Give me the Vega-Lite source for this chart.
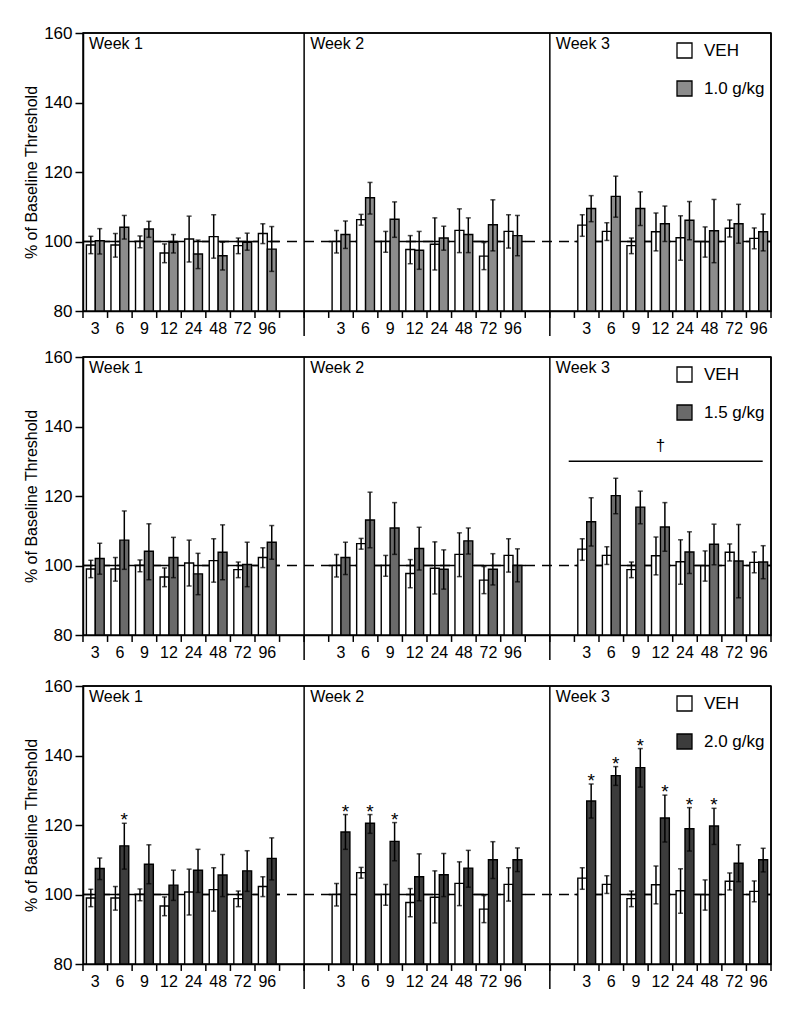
{
"$schema": "https://vega.github.io/schema/vega-lite/v6.json",
"background": "white",
"padding": {"top": 23, "left": 22, "right": 5, "bottom": 5},
"config": {
  "view": {"stroke": "black", "strokeWidth": 1.5},
  "axis": {"domainColor": "black", "tickColor": "black", "labelColor": "black", "titleColor": "black", "domainWidth": 1.5, "tickWidth": 1.5, "labelFont": "Liberation Sans", "titleFont": "Liberation Sans", "grid": false},
  "axisY": {"labelOverlap": false, "tickCount": 8, "labelFlush": false},
  "text": {"font": "Liberation Sans", "color": "black"},
  "legend": {"labelFont": "Liberation Sans"}
},
"datasets": {
  "rows": [
{"kind":"full","k":"1|3","k2":"3|96"},
{"kind":"span","k":"1|3","k2":"1|96"},{"kind":"span","k":"2|3","k2":"2|96"},{"kind":"span","k":"3|3","k2":"3|96"},
{"kind":"sep","k":"g2"},{"kind":"sep","k":"g4"},
{"kind":"week","k":"1|3","t":"Week 1"},{"kind":"week","k":"g2","t":"Week 2"},{"kind":"week","k":"g4","t":"Week 3"},
{"kind":"dagline","k":"3|3","k2":"3|96"},{"kind":"dagtext","k":"3|12","t":"†"},
{"kind":"tick","k":"1|3"},{"kind":"tick","k":"1|6"},{"kind":"tick","k":"1|9"},{"kind":"tick","k":"1|12"},{"kind":"tick","k":"1|24"},{"kind":"tick","k":"1|48"},{"kind":"tick","k":"1|72"},{"kind":"tick","k":"1|96"},{"kind":"tick","k":"g1"},{"kind":"tick","k":"g2"},
{"kind":"tick","k":"2|3"},{"kind":"tick","k":"2|6"},{"kind":"tick","k":"2|9"},{"kind":"tick","k":"2|12"},{"kind":"tick","k":"2|24"},{"kind":"tick","k":"2|48"},{"kind":"tick","k":"2|72"},{"kind":"tick","k":"2|96"},{"kind":"tick","k":"g3"},{"kind":"tick","k":"g4"},
{"kind":"tick","k":"3|3"},{"kind":"tick","k":"3|6"},{"kind":"tick","k":"3|9"},{"kind":"tick","k":"3|12"},{"kind":"tick","k":"3|24"},{"kind":"tick","k":"3|48"},{"kind":"tick","k":"3|72"},{"kind":"tick","k":"3|96"},
{"kind":"edge","k":"3|96"},
{"kind":"bar","d":"1.0","k":"1|3","c":"VEH","m":99.0,"lo":96.5,"hi":101.5},
{"kind":"bar","d":"1.0","k":"1|6","c":"VEH","m":99.0,"lo":95.5,"hi":102.3},
{"kind":"bar","d":"1.0","k":"1|9","c":"VEH","m":100.0,"lo":98.2,"hi":101.6},
{"kind":"bar","d":"1.0","k":"1|12","c":"VEH","m":96.7,"lo":93.9,"hi":99.3},
{"kind":"bar","d":"1.0","k":"1|24","c":"VEH","m":100.7,"lo":94.1,"hi":107.3},
{"kind":"bar","d":"1.0","k":"1|48","c":"VEH","m":101.4,"lo":95.2,"hi":107.7},
{"kind":"bar","d":"1.0","k":"1|72","c":"VEH","m":98.8,"lo":96.5,"hi":101.0},
{"kind":"bar","d":"1.0","k":"1|96","c":"VEH","m":102.3,"lo":99.4,"hi":105.1},
{"kind":"bar","d":"1.0","k":"2|3","c":"VEH","m":100.0,"lo":96.7,"hi":103.2},
{"kind":"bar","d":"1.0","k":"2|6","c":"VEH","m":106.3,"lo":104.7,"hi":107.8},
{"kind":"bar","d":"1.0","k":"2|9","c":"VEH","m":100.0,"lo":96.9,"hi":102.9},
{"kind":"bar","d":"1.0","k":"2|12","c":"VEH","m":97.7,"lo":93.6,"hi":101.7},
{"kind":"bar","d":"1.0","k":"2|24","c":"VEH","m":99.2,"lo":91.8,"hi":106.8},
{"kind":"bar","d":"1.0","k":"2|48","c":"VEH","m":103.2,"lo":96.8,"hi":109.4},
{"kind":"bar","d":"1.0","k":"2|72","c":"VEH","m":95.8,"lo":91.9,"hi":99.7},
{"kind":"bar","d":"1.0","k":"2|96","c":"VEH","m":102.9,"lo":98.1,"hi":107.7},
{"kind":"bar","d":"1.0","k":"3|3","c":"VEH","m":104.7,"lo":101.5,"hi":107.7},
{"kind":"bar","d":"1.0","k":"3|6","c":"VEH","m":102.9,"lo":100.3,"hi":105.4},
{"kind":"bar","d":"1.0","k":"3|9","c":"VEH","m":98.8,"lo":96.5,"hi":101.0},
{"kind":"bar","d":"1.0","k":"3|12","c":"VEH","m":102.8,"lo":97.3,"hi":108.2},
{"kind":"bar","d":"1.0","k":"3|24","c":"VEH","m":101.1,"lo":94.6,"hi":107.4},
{"kind":"bar","d":"1.0","k":"3|48","c":"VEH","m":99.9,"lo":95.5,"hi":104.2},
{"kind":"bar","d":"1.0","k":"3|72","c":"VEH","m":103.8,"lo":101.3,"hi":106.2},
{"kind":"bar","d":"1.0","k":"3|96","c":"VEH","m":100.9,"lo":97.9,"hi":103.9},
{"kind":"bar","d":"1.0","k":"1|3","c":"1.0 g/kg","m":100.2,"lo":96.4,"hi":103.7},
{"kind":"bar","d":"1.0","k":"1|6","c":"1.0 g/kg","m":104.1,"lo":100.7,"hi":107.5},
{"kind":"bar","d":"1.0","k":"1|9","c":"1.0 g/kg","m":103.6,"lo":101.2,"hi":105.8},
{"kind":"bar","d":"1.0","k":"1|12","c":"1.0 g/kg","m":99.8,"lo":96.7,"hi":102.0},
{"kind":"bar","d":"1.0","k":"1|24","c":"1.0 g/kg","m":96.4,"lo":92.2,"hi":100.4},
{"kind":"bar","d":"1.0","k":"1|48","c":"1.0 g/kg","m":95.9,"lo":91.8,"hi":99.8},
{"kind":"bar","d":"1.0","k":"1|72","c":"1.0 g/kg","m":99.8,"lo":97.5,"hi":102.4},
{"kind":"bar","d":"1.0","k":"1|96","c":"1.0 g/kg","m":97.8,"lo":91.4,"hi":104.3},
{"kind":"bar","d":"1.0","k":"2|3","c":"1.0 g/kg","m":102.0,"lo":98.0,"hi":105.9},
{"kind":"bar","d":"1.0","k":"2|6","c":"1.0 g/kg","m":112.6,"lo":107.9,"hi":117.0},
{"kind":"bar","d":"1.0","k":"2|9","c":"1.0 g/kg","m":106.4,"lo":101.2,"hi":111.4},
{"kind":"bar","d":"1.0","k":"2|12","c":"1.0 g/kg","m":97.5,"lo":92.0,"hi":102.9},
{"kind":"bar","d":"1.0","k":"2|24","c":"1.0 g/kg","m":101.0,"lo":97.5,"hi":104.4},
{"kind":"bar","d":"1.0","k":"2|48","c":"1.0 g/kg","m":102.0,"lo":96.8,"hi":106.8},
{"kind":"bar","d":"1.0","k":"2|72","c":"1.0 g/kg","m":104.8,"lo":97.3,"hi":112.0},
{"kind":"bar","d":"1.0","k":"2|96","c":"1.0 g/kg","m":101.7,"lo":95.9,"hi":107.5},
{"kind":"bar","d":"1.0","k":"3|3","c":"1.0 g/kg","m":109.5,"lo":105.7,"hi":113.2},
{"kind":"bar","d":"1.0","k":"3|6","c":"1.0 g/kg","m":113.0,"lo":107.0,"hi":118.8},
{"kind":"bar","d":"1.0","k":"3|9","c":"1.0 g/kg","m":109.5,"lo":104.6,"hi":114.3},
{"kind":"bar","d":"1.0","k":"3|12","c":"1.0 g/kg","m":105.1,"lo":100.0,"hi":110.2},
{"kind":"bar","d":"1.0","k":"3|24","c":"1.0 g/kg","m":106.1,"lo":100.5,"hi":111.5},
{"kind":"bar","d":"1.0","k":"3|48","c":"1.0 g/kg","m":103.1,"lo":93.9,"hi":112.1},
{"kind":"bar","d":"1.0","k":"3|72","c":"1.0 g/kg","m":105.1,"lo":99.5,"hi":110.7},
{"kind":"bar","d":"1.0","k":"3|96","c":"1.0 g/kg","m":102.8,"lo":97.3,"hi":107.9},
{"kind":"bar","d":"1.5","k":"1|3","c":"VEH","m":99.0,"lo":96.5,"hi":101.5},
{"kind":"bar","d":"1.5","k":"1|6","c":"VEH","m":99.0,"lo":95.5,"hi":102.3},
{"kind":"bar","d":"1.5","k":"1|9","c":"VEH","m":100.0,"lo":98.2,"hi":101.6},
{"kind":"bar","d":"1.5","k":"1|12","c":"VEH","m":96.7,"lo":93.9,"hi":99.3},
{"kind":"bar","d":"1.5","k":"1|24","c":"VEH","m":100.7,"lo":94.1,"hi":107.3},
{"kind":"bar","d":"1.5","k":"1|48","c":"VEH","m":101.4,"lo":95.2,"hi":107.7},
{"kind":"bar","d":"1.5","k":"1|72","c":"VEH","m":98.8,"lo":96.5,"hi":101.0},
{"kind":"bar","d":"1.5","k":"1|96","c":"VEH","m":102.3,"lo":99.4,"hi":105.1},
{"kind":"bar","d":"1.5","k":"2|3","c":"VEH","m":100.0,"lo":96.7,"hi":103.2},
{"kind":"bar","d":"1.5","k":"2|6","c":"VEH","m":106.3,"lo":104.7,"hi":107.8},
{"kind":"bar","d":"1.5","k":"2|9","c":"VEH","m":100.0,"lo":96.9,"hi":102.9},
{"kind":"bar","d":"1.5","k":"2|12","c":"VEH","m":97.7,"lo":93.6,"hi":101.7},
{"kind":"bar","d":"1.5","k":"2|24","c":"VEH","m":99.2,"lo":91.8,"hi":106.8},
{"kind":"bar","d":"1.5","k":"2|48","c":"VEH","m":103.2,"lo":96.8,"hi":109.4},
{"kind":"bar","d":"1.5","k":"2|72","c":"VEH","m":95.8,"lo":91.9,"hi":99.7},
{"kind":"bar","d":"1.5","k":"2|96","c":"VEH","m":102.9,"lo":98.1,"hi":107.7},
{"kind":"bar","d":"1.5","k":"3|3","c":"VEH","m":104.7,"lo":101.5,"hi":107.7},
{"kind":"bar","d":"1.5","k":"3|6","c":"VEH","m":102.9,"lo":100.3,"hi":105.4},
{"kind":"bar","d":"1.5","k":"3|9","c":"VEH","m":98.8,"lo":96.5,"hi":101.0},
{"kind":"bar","d":"1.5","k":"3|12","c":"VEH","m":102.8,"lo":97.3,"hi":108.2},
{"kind":"bar","d":"1.5","k":"3|24","c":"VEH","m":101.1,"lo":94.6,"hi":107.4},
{"kind":"bar","d":"1.5","k":"3|48","c":"VEH","m":99.9,"lo":95.5,"hi":104.2},
{"kind":"bar","d":"1.5","k":"3|72","c":"VEH","m":103.8,"lo":101.3,"hi":106.2},
{"kind":"bar","d":"1.5","k":"3|96","c":"VEH","m":100.9,"lo":97.9,"hi":103.9},
{"kind":"bar","d":"1.5","k":"1|3","c":"1.5 g/kg","m":102.0,"lo":97.5,"hi":106.4},
{"kind":"bar","d":"1.5","k":"1|6","c":"1.5 g/kg","m":107.3,"lo":98.9,"hi":115.7},
{"kind":"bar","d":"1.5","k":"1|9","c":"1.5 g/kg","m":104.1,"lo":95.9,"hi":112.0},
{"kind":"bar","d":"1.5","k":"1|12","c":"1.5 g/kg","m":102.3,"lo":96.5,"hi":108.1},
{"kind":"bar","d":"1.5","k":"1|24","c":"1.5 g/kg","m":97.6,"lo":91.6,"hi":103.5},
{"kind":"bar","d":"1.5","k":"1|48","c":"1.5 g/kg","m":103.8,"lo":95.9,"hi":111.7},
{"kind":"bar","d":"1.5","k":"1|72","c":"1.5 g/kg","m":100.3,"lo":93.9,"hi":106.7},
{"kind":"bar","d":"1.5","k":"1|96","c":"1.5 g/kg","m":106.7,"lo":101.8,"hi":111.5},
{"kind":"bar","d":"1.5","k":"2|3","c":"1.5 g/kg","m":102.3,"lo":97.4,"hi":106.7},
{"kind":"bar","d":"1.5","k":"2|6","c":"1.5 g/kg","m":113.1,"lo":105.1,"hi":121.1},
{"kind":"bar","d":"1.5","k":"2|9","c":"1.5 g/kg","m":110.8,"lo":103.2,"hi":118.1},
{"kind":"bar","d":"1.5","k":"2|12","c":"1.5 g/kg","m":104.9,"lo":98.7,"hi":111.0},
{"kind":"bar","d":"1.5","k":"2|24","c":"1.5 g/kg","m":98.9,"lo":93.2,"hi":104.5},
{"kind":"bar","d":"1.5","k":"2|48","c":"1.5 g/kg","m":107.1,"lo":103.3,"hi":110.8},
{"kind":"bar","d":"1.5","k":"2|72","c":"1.5 g/kg","m":98.9,"lo":94.4,"hi":103.4},
{"kind":"bar","d":"1.5","k":"2|96","c":"1.5 g/kg","m":100.0,"lo":95.3,"hi":104.8},
{"kind":"bar","d":"1.5","k":"3|3","c":"1.5 g/kg","m":112.6,"lo":105.6,"hi":119.5},
{"kind":"bar","d":"1.5","k":"3|6","c":"1.5 g/kg","m":120.1,"lo":114.9,"hi":125.1},
{"kind":"bar","d":"1.5","k":"3|9","c":"1.5 g/kg","m":116.8,"lo":112.0,"hi":121.4},
{"kind":"bar","d":"1.5","k":"3|12","c":"1.5 g/kg","m":111.1,"lo":104.1,"hi":118.1},
{"kind":"bar","d":"1.5","k":"3|24","c":"1.5 g/kg","m":103.9,"lo":97.7,"hi":109.7},
{"kind":"bar","d":"1.5","k":"3|48","c":"1.5 g/kg","m":106.1,"lo":100.2,"hi":111.9},
{"kind":"bar","d":"1.5","k":"3|72","c":"1.5 g/kg","m":101.3,"lo":90.7,"hi":111.8},
{"kind":"bar","d":"1.5","k":"3|96","c":"1.5 g/kg","m":101.0,"lo":96.2,"hi":105.7},
{"kind":"bar","d":"2.0","k":"1|3","c":"VEH","m":99.0,"lo":96.5,"hi":101.5},
{"kind":"bar","d":"2.0","k":"1|6","c":"VEH","m":99.0,"lo":95.5,"hi":102.3},
{"kind":"bar","d":"2.0","k":"1|9","c":"VEH","m":100.0,"lo":98.2,"hi":101.6},
{"kind":"bar","d":"2.0","k":"1|12","c":"VEH","m":96.7,"lo":93.9,"hi":99.3},
{"kind":"bar","d":"2.0","k":"1|24","c":"VEH","m":100.7,"lo":94.1,"hi":107.3},
{"kind":"bar","d":"2.0","k":"1|48","c":"VEH","m":101.4,"lo":95.2,"hi":107.7},
{"kind":"bar","d":"2.0","k":"1|72","c":"VEH","m":98.8,"lo":96.5,"hi":101.0},
{"kind":"bar","d":"2.0","k":"1|96","c":"VEH","m":102.3,"lo":99.4,"hi":105.1},
{"kind":"bar","d":"2.0","k":"2|3","c":"VEH","m":100.0,"lo":96.7,"hi":103.2},
{"kind":"bar","d":"2.0","k":"2|6","c":"VEH","m":106.3,"lo":104.7,"hi":107.8},
{"kind":"bar","d":"2.0","k":"2|9","c":"VEH","m":100.0,"lo":96.9,"hi":102.9},
{"kind":"bar","d":"2.0","k":"2|12","c":"VEH","m":97.7,"lo":93.6,"hi":101.7},
{"kind":"bar","d":"2.0","k":"2|24","c":"VEH","m":99.2,"lo":91.8,"hi":106.8},
{"kind":"bar","d":"2.0","k":"2|48","c":"VEH","m":103.2,"lo":96.8,"hi":109.4},
{"kind":"bar","d":"2.0","k":"2|72","c":"VEH","m":95.8,"lo":91.9,"hi":99.7},
{"kind":"bar","d":"2.0","k":"2|96","c":"VEH","m":102.9,"lo":98.1,"hi":107.7},
{"kind":"bar","d":"2.0","k":"3|3","c":"VEH","m":104.7,"lo":101.5,"hi":107.7},
{"kind":"bar","d":"2.0","k":"3|6","c":"VEH","m":102.9,"lo":100.3,"hi":105.4},
{"kind":"bar","d":"2.0","k":"3|9","c":"VEH","m":98.8,"lo":96.5,"hi":101.0},
{"kind":"bar","d":"2.0","k":"3|12","c":"VEH","m":102.8,"lo":97.3,"hi":108.2},
{"kind":"bar","d":"2.0","k":"3|24","c":"VEH","m":101.1,"lo":94.6,"hi":107.4},
{"kind":"bar","d":"2.0","k":"3|48","c":"VEH","m":99.9,"lo":95.5,"hi":104.2},
{"kind":"bar","d":"2.0","k":"3|72","c":"VEH","m":103.8,"lo":101.3,"hi":106.2},
{"kind":"bar","d":"2.0","k":"3|96","c":"VEH","m":100.9,"lo":97.9,"hi":103.9},
{"kind":"bar","d":"2.0","k":"1|3","c":"2.0 g/kg","m":107.5,"lo":104.3,"hi":110.5},
{"kind":"bar","d":"2.0","k":"1|6","c":"2.0 g/kg","m":114.0,"lo":107.3,"hi":120.5,"s":1},
{"kind":"bar","d":"2.0","k":"1|9","c":"2.0 g/kg","m":108.7,"lo":103.1,"hi":114.3},
{"kind":"bar","d":"2.0","k":"1|12","c":"2.0 g/kg","m":102.7,"lo":98.3,"hi":107.0},
{"kind":"bar","d":"2.0","k":"1|24","c":"2.0 g/kg","m":107.0,"lo":100.6,"hi":113.0},
{"kind":"bar","d":"2.0","k":"1|48","c":"2.0 g/kg","m":105.6,"lo":99.4,"hi":111.5},
{"kind":"bar","d":"2.0","k":"1|72","c":"2.0 g/kg","m":106.8,"lo":100.9,"hi":112.6},
{"kind":"bar","d":"2.0","k":"1|96","c":"2.0 g/kg","m":110.4,"lo":104.2,"hi":116.3},
{"kind":"bar","d":"2.0","k":"2|3","c":"2.0 g/kg","m":118.0,"lo":113.0,"hi":123.0,"s":1},
{"kind":"bar","d":"2.0","k":"2|6","c":"2.0 g/kg","m":120.5,"lo":117.6,"hi":123.0,"s":1},
{"kind":"bar","d":"2.0","k":"2|9","c":"2.0 g/kg","m":115.3,"lo":109.7,"hi":120.7,"s":1},
{"kind":"bar","d":"2.0","k":"2|12","c":"2.0 g/kg","m":105.1,"lo":98.2,"hi":111.7},
{"kind":"bar","d":"2.0","k":"2|24","c":"2.0 g/kg","m":105.7,"lo":99.4,"hi":111.8},
{"kind":"bar","d":"2.0","k":"2|48","c":"2.0 g/kg","m":107.6,"lo":102.1,"hi":112.7},
{"kind":"bar","d":"2.0","k":"2|72","c":"2.0 g/kg","m":110.0,"lo":104.6,"hi":115.2},
{"kind":"bar","d":"2.0","k":"2|96","c":"2.0 g/kg","m":110.0,"lo":106.6,"hi":113.4},
{"kind":"bar","d":"2.0","k":"3|3","c":"2.0 g/kg","m":126.9,"lo":122.0,"hi":131.8,"s":1},
{"kind":"bar","d":"2.0","k":"3|6","c":"2.0 g/kg","m":134.2,"lo":131.4,"hi":136.8,"s":1},
{"kind":"bar","d":"2.0","k":"3|9","c":"2.0 g/kg","m":136.5,"lo":130.9,"hi":142.0,"s":1},
{"kind":"bar","d":"2.0","k":"3|12","c":"2.0 g/kg","m":122.0,"lo":115.1,"hi":128.6,"s":1},
{"kind":"bar","d":"2.0","k":"3|24","c":"2.0 g/kg","m":118.9,"lo":112.5,"hi":125.0,"s":1},
{"kind":"bar","d":"2.0","k":"3|48","c":"2.0 g/kg","m":119.7,"lo":114.4,"hi":124.8,"s":1},
{"kind":"bar","d":"2.0","k":"3|72","c":"2.0 g/kg","m":109.0,"lo":103.7,"hi":114.3},
{"kind":"bar","d":"2.0","k":"3|96","c":"2.0 g/kg","m":110.0,"lo":106.5,"hi":113.3}
  ]
},
"resolve": {"scale": {"color": "independent", "xOffset": "independent"}},
"spacing": 14,
"vconcat": [
{
"resolve": {"scale": {"color": "independent", "xOffset": "independent"}},
"spacing": 9,
"vconcat": [
{
  "width": 688, "height": 278,
  "data": {"name": "rows"},
  "layer": [
    {"transform": [{"filter": "datum.kind === 'full'"}], "mark": {"type": "rule", "strokeDash": [10, 7], "strokeWidth": 1.3, "color": "black", "xOffset": -12.3, "x2Offset": 12.3},
     "encoding": {"x": {"field": "k", "type": "nominal", "scale": {"type": "band", "domain": ["1|3","1|6","1|9","1|12","1|24","1|48","1|72","1|96","g1","g2","2|3","2|6","2|9","2|12","2|24","2|48","2|72","2|96","g3","g4","3|3","3|6","3|9","3|12","3|24","3|48","3|72","3|96"], "paddingInner": 0, "paddingOuter": 0},
         "axis": {"title": null, "labelExpr": "indexof(datum.label + '', '|') > 0 ? substring(datum.label + '', indexof(datum.label + '', '|') + 1) : ''", "labelAngle": 0, "labelAlign": "center", "labelBaseline": "top", "ticks": false, "labelFontSize": 16, "labelPadding": 9, "labelOverlap": false}},
       "x2": {"field": "k2"},
       "y": {"datum": 100, "type": "quantitative", "scale": {"domain": [80, 160], "nice": false, "zero": false},
         "axis": {"title": "% of Baseline Threshold", "values": [80,90,100,110,120,130,140,150,160], "tickSize": 8, "labelFontSize": 17, "labelPadding": 3, "labelOverlap": false, "labelFlush": false, "titleFontSize": 16, "titleFontWeight": "normal", "titlePadding": 4}}}},
    {"transform": [{"filter": "datum.kind === 'span'"}], "mark": {"type": "rule", "strokeWidth": 1.3, "color": "black", "xOffset": -12.3, "x2Offset": 12.3},
     "encoding": {"x": {"field": "k", "type": "nominal"}, "x2": {"field": "k2"}, "y": {"datum": 100, "type": "quantitative"}}},
    {"transform": [{"filter": "datum.kind === 'bar' && datum.d === '1.0'"}],
     "mark": {"type": "bar", "stroke": "black", "strokeWidth": 1.4},
     "encoding": {
       "x": {"field": "k", "type": "nominal", "axis": {"title": null, "labelExpr": "indexof(datum.label + '', '|') > 0 ? substring(datum.label + '', indexof(datum.label + '', '|') + 1) : ''", "labelAngle": 0, "labelAlign": "center", "labelBaseline": "top", "ticks": false, "labelFontSize": 16, "labelPadding": 9, "labelOverlap": false}},
       "y": {"field": "m", "type": "quantitative", "scale": {"domain": [80, 160], "nice": false, "zero": false},
         "axis": {"title": "% of Baseline Threshold", "values": [80,90,100,110,120,130,140,150,160], "tickSize": 8, "labelFontSize": 17, "labelPadding": 3, "labelOverlap": false, "labelFlush": false, "titleFontSize": 16, "titleFontWeight": "normal", "titlePadding": 4}},
       "xOffset": {"field": "c", "scale": {"domain": ["VEH", "1.0 g/kg"], "paddingOuter": 0.38, "paddingInner": 0}},
       "y2": {"datum": 80},
       "color": {"field": "c", "scale": {"domain": ["VEH", "1.0 g/kg"], "range": ["white", "#8c8c8c"]},
         "legend": {"orient": "none", "legendX": 593, "legendY": 9, "title": null, "symbolType": "square", "symbolSize": 225, "symbolStrokeColor": "black", "symbolStrokeWidth": 1.3, "symbolOpacity": 1, "labelFontSize": 17, "labelOffset": 11, "rowPadding": 17, "padding": 0}}}},
    {"transform": [{"filter": "datum.kind === 'bar' && datum.d === '1.0'"}],
     "mark": {"type": "rule", "strokeWidth": 1.5, "color": "black"},
     "encoding": {"x": {"field": "k", "type": "nominal"}, "xOffset": {"field": "c", "scale": {"domain": ["VEH", "1.0 g/kg"], "paddingOuter": 0.38, "paddingInner": 0}}, "y": {"field": "lo", "type": "quantitative"}, "y2": {"field": "hi"}}},
    {"transform": [{"filter": "datum.kind === 'bar' && datum.d === '1.0'"}],
     "mark": {"type": "tick", "orient": "horizontal", "size": 5, "thickness": 1.5, "color": "black"},
     "encoding": {"x": {"field": "k", "type": "nominal"}, "xOffset": {"field": "c", "scale": {"domain": ["VEH", "1.0 g/kg"], "paddingOuter": 0.38, "paddingInner": 0}}, "y": {"field": "lo", "type": "quantitative"}}},
    {"transform": [{"filter": "datum.kind === 'bar' && datum.d === '1.0'"}],
     "mark": {"type": "tick", "orient": "horizontal", "size": 5, "thickness": 1.5, "color": "black"},
     "encoding": {"x": {"field": "k", "type": "nominal"}, "xOffset": {"field": "c", "scale": {"domain": ["VEH", "1.0 g/kg"], "paddingOuter": 0.38, "paddingInner": 0}}, "y": {"field": "hi", "type": "quantitative"}}},
    {"transform": [{"filter": "datum.kind === 'tick'"}], "mark": {"type": "rule", "strokeWidth": 1.5, "color": "black", "xOffset": -12.3},
     "encoding": {"x": {"field": "k", "type": "nominal"}, "y": {"datum": 80, "type": "quantitative"}, "y2": {"datum": 78}}},
    {"transform": [{"filter": "datum.kind === 'edge'"}], "mark": {"type": "rule", "strokeWidth": 1.5, "color": "black", "xOffset": 12.3},
     "encoding": {"x": {"field": "k", "type": "nominal"}, "y": {"datum": 160, "type": "quantitative"}, "y2": {"datum": 78}}},
    {"transform": [{"filter": "datum.kind === 'full'"}], "mark": {"type": "rule", "strokeWidth": 1.5, "color": "black", "xOffset": -12.3, "x2Offset": 12.3},
     "encoding": {"x": {"field": "k", "type": "nominal"}, "x2": {"field": "k2"}, "y": {"datum": 160, "type": "quantitative"}}},
    {"transform": [{"filter": "datum.kind === 'sep'"}], "mark": {"type": "rule", "strokeWidth": 1.5, "color": "black", "xOffset": -12.3},
     "encoding": {"x": {"field": "k", "type": "nominal"}, "y": {"datum": 160, "type": "quantitative"}, "y2": {"datum": 72.8}}},
    {"transform": [{"filter": "datum.kind === 'week'"}], "mark": {"type": "text", "align": "left", "baseline": "top", "dx": -6.3, "dy": 3, "fontSize": 16},
     "encoding": {"x": {"field": "k", "type": "nominal"}, "y": {"datum": 160, "type": "quantitative"}, "text": {"field": "t"}}}
  ]
},
{
  "width": 688, "height": 278,
  "data": {"name": "rows"},
  "layer": [
    {"transform": [{"filter": "datum.kind === 'full'"}], "mark": {"type": "rule", "strokeDash": [10, 7], "strokeWidth": 1.3, "color": "black", "xOffset": -12.3, "x2Offset": 12.3},
     "encoding": {"x": {"field": "k", "type": "nominal", "scale": {"type": "band", "domain": ["1|3","1|6","1|9","1|12","1|24","1|48","1|72","1|96","g1","g2","2|3","2|6","2|9","2|12","2|24","2|48","2|72","2|96","g3","g4","3|3","3|6","3|9","3|12","3|24","3|48","3|72","3|96"], "paddingInner": 0, "paddingOuter": 0},
         "axis": {"title": null, "labelExpr": "indexof(datum.label + '', '|') > 0 ? substring(datum.label + '', indexof(datum.label + '', '|') + 1) : ''", "labelAngle": 0, "labelAlign": "center", "labelBaseline": "top", "ticks": false, "labelFontSize": 16, "labelPadding": 9, "labelOverlap": false}},
       "x2": {"field": "k2"},
       "y": {"datum": 100, "type": "quantitative", "scale": {"domain": [80, 160], "nice": false, "zero": false},
         "axis": {"title": "% of Baseline Threshold", "values": [80,90,100,110,120,130,140,150,160], "tickSize": 8, "labelFontSize": 17, "labelPadding": 3, "labelOverlap": false, "labelFlush": false, "titleFontSize": 16, "titleFontWeight": "normal", "titlePadding": 4}}}},
    {"transform": [{"filter": "datum.kind === 'span'"}], "mark": {"type": "rule", "strokeWidth": 1.3, "color": "black", "xOffset": -12.3, "x2Offset": 12.3},
     "encoding": {"x": {"field": "k", "type": "nominal"}, "x2": {"field": "k2"}, "y": {"datum": 100, "type": "quantitative"}}},
    {"transform": [{"filter": "datum.kind === 'bar' && datum.d === '1.5'"}],
     "mark": {"type": "bar", "stroke": "black", "strokeWidth": 1.4},
     "encoding": {
       "x": {"field": "k", "type": "nominal", "axis": {"title": null, "labelExpr": "indexof(datum.label + '', '|') > 0 ? substring(datum.label + '', indexof(datum.label + '', '|') + 1) : ''", "labelAngle": 0, "labelAlign": "center", "labelBaseline": "top", "ticks": false, "labelFontSize": 16, "labelPadding": 9, "labelOverlap": false}},
       "y": {"field": "m", "type": "quantitative", "scale": {"domain": [80, 160], "nice": false, "zero": false},
         "axis": {"title": "% of Baseline Threshold", "values": [80,90,100,110,120,130,140,150,160], "tickSize": 8, "labelFontSize": 17, "labelPadding": 3, "labelOverlap": false, "labelFlush": false, "titleFontSize": 16, "titleFontWeight": "normal", "titlePadding": 4}},
       "xOffset": {"field": "c", "scale": {"domain": ["VEH", "1.5 g/kg"], "paddingOuter": 0.38, "paddingInner": 0}},
       "y2": {"datum": 80},
       "color": {"field": "c", "scale": {"domain": ["VEH", "1.5 g/kg"], "range": ["white", "#6a6a6a"]},
         "legend": {"orient": "none", "legendX": 593, "legendY": 9, "title": null, "symbolType": "square", "symbolSize": 225, "symbolStrokeColor": "black", "symbolStrokeWidth": 1.3, "symbolOpacity": 1, "labelFontSize": 17, "labelOffset": 11, "rowPadding": 17, "padding": 0}}}},
    {"transform": [{"filter": "datum.kind === 'bar' && datum.d === '1.5'"}],
     "mark": {"type": "rule", "strokeWidth": 1.5, "color": "black"},
     "encoding": {"x": {"field": "k", "type": "nominal"}, "xOffset": {"field": "c", "scale": {"domain": ["VEH", "1.5 g/kg"], "paddingOuter": 0.38, "paddingInner": 0}}, "y": {"field": "lo", "type": "quantitative"}, "y2": {"field": "hi"}}},
    {"transform": [{"filter": "datum.kind === 'bar' && datum.d === '1.5'"}],
     "mark": {"type": "tick", "orient": "horizontal", "size": 5, "thickness": 1.5, "color": "black"},
     "encoding": {"x": {"field": "k", "type": "nominal"}, "xOffset": {"field": "c", "scale": {"domain": ["VEH", "1.5 g/kg"], "paddingOuter": 0.38, "paddingInner": 0}}, "y": {"field": "lo", "type": "quantitative"}}},
    {"transform": [{"filter": "datum.kind === 'bar' && datum.d === '1.5'"}],
     "mark": {"type": "tick", "orient": "horizontal", "size": 5, "thickness": 1.5, "color": "black"},
     "encoding": {"x": {"field": "k", "type": "nominal"}, "xOffset": {"field": "c", "scale": {"domain": ["VEH", "1.5 g/kg"], "paddingOuter": 0.38, "paddingInner": 0}}, "y": {"field": "hi", "type": "quantitative"}}},
    {"transform": [{"filter": "datum.kind === 'tick'"}], "mark": {"type": "rule", "strokeWidth": 1.5, "color": "black", "xOffset": -12.3},
     "encoding": {"x": {"field": "k", "type": "nominal"}, "y": {"datum": 80, "type": "quantitative"}, "y2": {"datum": 78}}},
    {"transform": [{"filter": "datum.kind === 'edge'"}], "mark": {"type": "rule", "strokeWidth": 1.5, "color": "black", "xOffset": 12.3},
     "encoding": {"x": {"field": "k", "type": "nominal"}, "y": {"datum": 160, "type": "quantitative"}, "y2": {"datum": 78}}},
    {"transform": [{"filter": "datum.kind === 'full'"}], "mark": {"type": "rule", "strokeWidth": 1.5, "color": "black", "xOffset": -12.3, "x2Offset": 12.3},
     "encoding": {"x": {"field": "k", "type": "nominal"}, "x2": {"field": "k2"}, "y": {"datum": 160, "type": "quantitative"}}},
    {"transform": [{"filter": "datum.kind === 'sep'"}], "mark": {"type": "rule", "strokeWidth": 1.5, "color": "black", "xOffset": -12.3},
     "encoding": {"x": {"field": "k", "type": "nominal"}, "y": {"datum": 160, "type": "quantitative"}, "y2": {"datum": 72.8}}},
    {"transform": [{"filter": "datum.kind === 'week'"}], "mark": {"type": "text", "align": "left", "baseline": "top", "dx": -6.3, "dy": 3, "fontSize": 16},
     "encoding": {"x": {"field": "k", "type": "nominal"}, "y": {"datum": 160, "type": "quantitative"}, "text": {"field": "t"}}},
    {"transform": [{"filter": "datum.kind === 'dagline'"}], "mark": {"type": "rule", "strokeWidth": 1.3, "color": "black", "xOffset": -18, "x2Offset": 4},
     "encoding": {"x": {"field": "k", "type": "nominal"}, "x2": {"field": "k2"}, "y": {"datum": 130, "type": "quantitative"}}},
    {"transform": [{"filter": "datum.kind === 'dagtext'"}], "mark": {"type": "text", "align": "center", "baseline": "middle", "fontSize": 17},
     "encoding": {"x": {"field": "k", "type": "nominal"}, "y": {"datum": 134.4, "type": "quantitative"}, "text": {"field": "t"}}}
  ]
}
]
},
{
  "width": 688, "height": 278,
  "data": {"name": "rows"},
  "layer": [
    {"transform": [{"filter": "datum.kind === 'full'"}], "mark": {"type": "rule", "strokeDash": [10, 7], "strokeWidth": 1.3, "color": "black", "xOffset": -12.3, "x2Offset": 12.3},
     "encoding": {"x": {"field": "k", "type": "nominal", "scale": {"type": "band", "domain": ["1|3","1|6","1|9","1|12","1|24","1|48","1|72","1|96","g1","g2","2|3","2|6","2|9","2|12","2|24","2|48","2|72","2|96","g3","g4","3|3","3|6","3|9","3|12","3|24","3|48","3|72","3|96"], "paddingInner": 0, "paddingOuter": 0},
         "axis": {"title": null, "labelExpr": "indexof(datum.label + '', '|') > 0 ? substring(datum.label + '', indexof(datum.label + '', '|') + 1) : ''", "labelAngle": 0, "labelAlign": "center", "labelBaseline": "top", "ticks": false, "labelFontSize": 16, "labelPadding": 9, "labelOverlap": false}},
       "x2": {"field": "k2"},
       "y": {"datum": 100, "type": "quantitative", "scale": {"domain": [80, 160], "nice": false, "zero": false},
         "axis": {"title": "% of Baseline Threshold", "values": [80,90,100,110,120,130,140,150,160], "tickSize": 8, "labelFontSize": 17, "labelPadding": 3, "labelOverlap": false, "labelFlush": false, "titleFontSize": 16, "titleFontWeight": "normal", "titlePadding": 4}}}},
    {"transform": [{"filter": "datum.kind === 'span'"}], "mark": {"type": "rule", "strokeWidth": 1.3, "color": "black", "xOffset": -12.3, "x2Offset": 12.3},
     "encoding": {"x": {"field": "k", "type": "nominal"}, "x2": {"field": "k2"}, "y": {"datum": 100, "type": "quantitative"}}},
    {"transform": [{"filter": "datum.kind === 'bar' && datum.d === '2.0'"}],
     "mark": {"type": "bar", "stroke": "black", "strokeWidth": 1.4},
     "encoding": {
       "x": {"field": "k", "type": "nominal", "axis": {"title": null, "labelExpr": "indexof(datum.label + '', '|') > 0 ? substring(datum.label + '', indexof(datum.label + '', '|') + 1) : ''", "labelAngle": 0, "labelAlign": "center", "labelBaseline": "top", "ticks": false, "labelFontSize": 16, "labelPadding": 9, "labelOverlap": false}},
       "y": {"field": "m", "type": "quantitative", "scale": {"domain": [80, 160], "nice": false, "zero": false},
         "axis": {"title": "% of Baseline Threshold", "values": [80,90,100,110,120,130,140,150,160], "tickSize": 8, "labelFontSize": 17, "labelPadding": 3, "labelOverlap": false, "labelFlush": false, "titleFontSize": 16, "titleFontWeight": "normal", "titlePadding": 4}},
       "xOffset": {"field": "c", "scale": {"domain": ["VEH", "2.0 g/kg"], "paddingOuter": 0.38, "paddingInner": 0}},
       "y2": {"datum": 80},
       "color": {"field": "c", "scale": {"domain": ["VEH", "2.0 g/kg"], "range": ["white", "#3c3c3c"]},
         "legend": {"orient": "none", "legendX": 593, "legendY": 9, "title": null, "symbolType": "square", "symbolSize": 225, "symbolStrokeColor": "black", "symbolStrokeWidth": 1.3, "symbolOpacity": 1, "labelFontSize": 17, "labelOffset": 11, "rowPadding": 17, "padding": 0}}}},
    {"transform": [{"filter": "datum.kind === 'bar' && datum.d === '2.0'"}],
     "mark": {"type": "rule", "strokeWidth": 1.5, "color": "black"},
     "encoding": {"x": {"field": "k", "type": "nominal"}, "xOffset": {"field": "c", "scale": {"domain": ["VEH", "2.0 g/kg"], "paddingOuter": 0.38, "paddingInner": 0}}, "y": {"field": "lo", "type": "quantitative"}, "y2": {"field": "hi"}}},
    {"transform": [{"filter": "datum.kind === 'bar' && datum.d === '2.0'"}],
     "mark": {"type": "tick", "orient": "horizontal", "size": 5, "thickness": 1.5, "color": "black"},
     "encoding": {"x": {"field": "k", "type": "nominal"}, "xOffset": {"field": "c", "scale": {"domain": ["VEH", "2.0 g/kg"], "paddingOuter": 0.38, "paddingInner": 0}}, "y": {"field": "lo", "type": "quantitative"}}},
    {"transform": [{"filter": "datum.kind === 'bar' && datum.d === '2.0'"}],
     "mark": {"type": "tick", "orient": "horizontal", "size": 5, "thickness": 1.5, "color": "black"},
     "encoding": {"x": {"field": "k", "type": "nominal"}, "xOffset": {"field": "c", "scale": {"domain": ["VEH", "2.0 g/kg"], "paddingOuter": 0.38, "paddingInner": 0}}, "y": {"field": "hi", "type": "quantitative"}}},
    {"transform": [{"filter": "datum.kind === 'bar' && datum.d === '2.0' && datum.s === 1"}],
     "mark": {"type": "text", "align": "center", "baseline": "alphabetic", "dy": 3, "fontSize": 19},
     "encoding": {"x": {"field": "k", "type": "nominal"}, "xOffset": {"field": "c", "scale": {"domain": ["VEH", "2.0 g/kg"], "paddingOuter": 0.38, "paddingInner": 0}}, "y": {"field": "hi", "type": "quantitative"}, "text": {"value": "*"}}},
    {"transform": [{"filter": "datum.kind === 'tick'"}], "mark": {"type": "rule", "strokeWidth": 1.5, "color": "black", "xOffset": -12.3},
     "encoding": {"x": {"field": "k", "type": "nominal"}, "y": {"datum": 80, "type": "quantitative"}, "y2": {"datum": 78}}},
    {"transform": [{"filter": "datum.kind === 'edge'"}], "mark": {"type": "rule", "strokeWidth": 1.5, "color": "black", "xOffset": 12.3},
     "encoding": {"x": {"field": "k", "type": "nominal"}, "y": {"datum": 160, "type": "quantitative"}, "y2": {"datum": 78}}},
    {"transform": [{"filter": "datum.kind === 'full'"}], "mark": {"type": "rule", "strokeWidth": 1.5, "color": "black", "xOffset": -12.3, "x2Offset": 12.3},
     "encoding": {"x": {"field": "k", "type": "nominal"}, "x2": {"field": "k2"}, "y": {"datum": 160, "type": "quantitative"}}},
    {"transform": [{"filter": "datum.kind === 'sep'"}], "mark": {"type": "rule", "strokeWidth": 1.5, "color": "black", "xOffset": -12.3},
     "encoding": {"x": {"field": "k", "type": "nominal"}, "y": {"datum": 160, "type": "quantitative"}, "y2": {"datum": 72.8}}},
    {"transform": [{"filter": "datum.kind === 'week'"}], "mark": {"type": "text", "align": "left", "baseline": "top", "dx": -6.3, "dy": 3, "fontSize": 16},
     "encoding": {"x": {"field": "k", "type": "nominal"}, "y": {"datum": 160, "type": "quantitative"}, "text": {"field": "t"}}}
  ]
}
]
}
